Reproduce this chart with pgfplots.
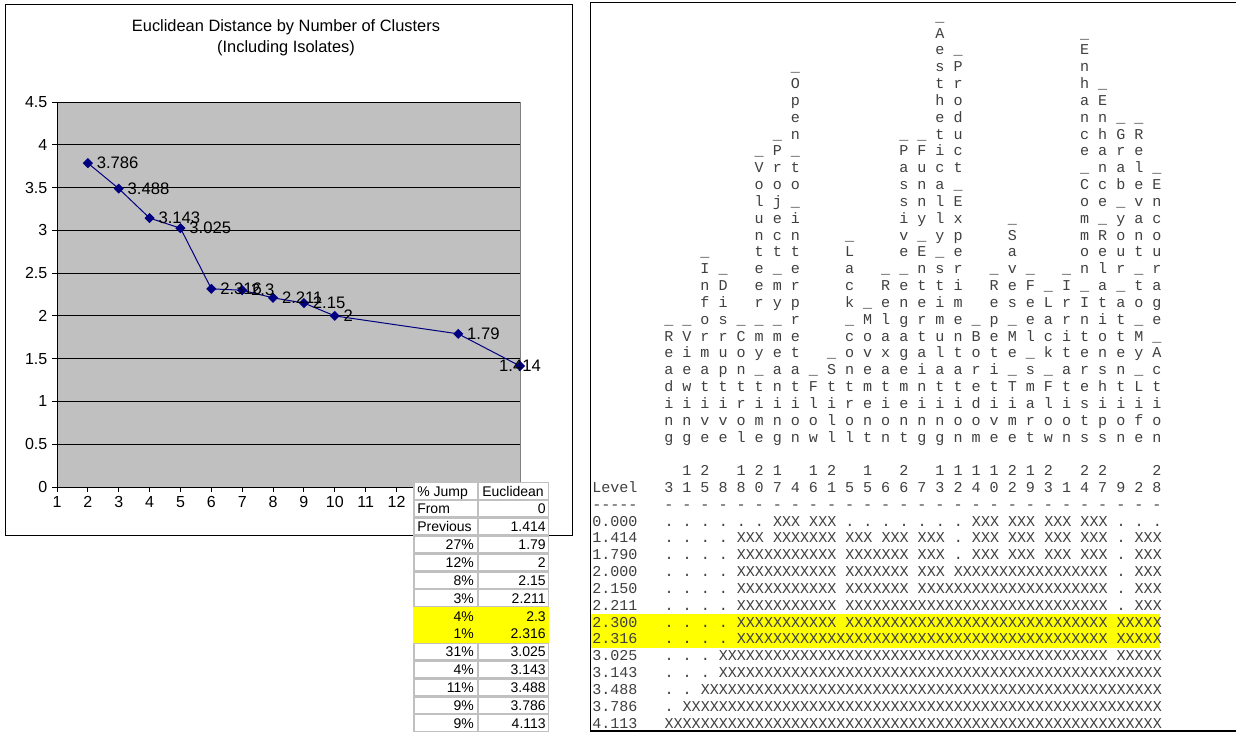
\documentclass[border=0pt]{standalone}
\usepackage{fontspec}
\setmainfont{Liberation Sans}
\newfontfamily\dmono{Liberation Mono}
\usepackage{pgfplots}
\pgfplotsset{compat=1.18}
\frenchspacing
\definecolor{excelgray}{RGB}{192,192,192}
\definecolor{navy}{RGB}{0,0,128}
\definecolor{xlyellow}{RGB}{255,255,0}
\definecolor{cellgray}{RGB}{192,192,192}
\def\stackchars#1{\ifx#1\relax\else\hbox{#1}\expandafter\stackchars\fi}
\def\Xs#1{\ifnum#1>0 X\expandafter\Xs\expandafter{\the\numexpr#1-1\relax}\fi}
\begingroup
\obeyspaces%
\gdef {\ }%
\gdef\rA{\relax0.000   . . . . . . XXX XXX . . . . . . . XXX XXX XXX XXX . . .}%
\gdef\rB{\relax1.414   . . . . XXX \Xs{7} XXX XXX XXX . XXX XXX XXX XXX . XXX}%
\gdef\rC{\relax1.790   . . . . \Xs{11} \Xs{7} XXX . XXX XXX XXX XXX . XXX}%
\gdef\rD{\relax2.000   . . . . \Xs{11} \Xs{7} XXX \Xs{17} . XXX}%
\gdef\rE{\relax2.150   . . . . \Xs{11} \Xs{7} \Xs{21} . XXX}%
\gdef\rF{\relax2.211   . . . . \Xs{11} \Xs{29} . XXX}%
\gdef\rG{\relax2.300   . . . . \Xs{11} \Xs{29} \Xs{5}}%
\gdef\rH{\relax2.316   . . . . \Xs{41} \Xs{5}}%
\gdef\rI{\relax3.025   . . . \Xs{43} \Xs{5}}%
\gdef\rJ{\relax3.143   . . . \Xs{49}}%
\gdef\rK{\relax3.488   . . \Xs{51}}%
\gdef\rL{\relax3.786   . \Xs{53}}%
\gdef\rM{\relax4.113   \Xs{55}}%
\endgroup
\tikzset{mono/.style={font=\dmono\fontsize{11.3}{12.62}\selectfont, text=black!75, inner sep=0pt}}
\begin{document}
\begin{tikzpicture}
\begin{scope}[x=0.75pt,y=-0.75pt]
\fill[white] (0,0) rectangle (1236,735);
\draw[black, line width=0.75pt] (5,5) rectangle (572,535);
\node[font=\fontsize{12.3}{15}\selectfont] at (286,27) {Euclidean Distance by Number of Clusters};
\node[font=\fontsize{12.3}{15}\selectfont] at (286,48) {(Including Isolates)};
\end{scope}
\begin{axis}[
  at={(42.75pt,-365.25pt)}, anchor=south west,
  scale only axis, width=347.25pt, height=288.75pt,
  xmin=1, xmax=16, ymin=0, ymax=4.5,
  xtick={1,2,...,16},
  xticklabels={1,2,3,4,5,6,7,8,9,10,11,12,{},{},{},{}},
  ytick={0,0.5,1,1.5,2,2.5,3,3.5,4,4.5},
  axis x line*=bottom, axis y line*=left,
  axis line style={black, line width=0.75pt},
  axis background/.style={fill=excelgray, draw=gray},
  ymajorgrids, major grid style={black, line width=0.75pt},
  tick align=outside, major tick length=3.75pt, tick style={black, line width=0.75pt},
  tick label style={font=\fontsize{12}{14}\selectfont, text=black},
  /pgf/number format/assume math mode=true,
  yticklabel style={/pgf/number format/fixed},
  clip=false,
]
\addplot[navy, line width=0.75pt, mark=square*, mark size=2.3pt, mark options={rotate=45, fill=navy, draw=navy}]
  coordinates {(2,3.786) (3,3.488) (4,3.143) (5,3.025) (6,2.316) (7,2.3) (8,2.211) (9,2.15) (10,2) (14,1.79) (16,1.414)};
\addplot[draw=none, mark=none, nodes near coords, point meta=explicit symbolic,
  every node near coord/.append style={anchor=west, xshift=6.5pt, inner sep=0pt, font=\fontsize{12.5}{14}\selectfont, text=black}]
  coordinates {(2,3.786)[3.786] (3,3.488)[3.488] (4,3.143)[3.143] (5,3.025)[3.025] (6,2.316)[2.316] (7,2.3)[2.3] (8,2.211)[2.211] (9,2.15)[2.15] (10,2)[2] (14,1.79)[1.79]};
\addplot[draw=none, mark=none, nodes near coords, point meta=explicit symbolic,
  every node near coord/.append style={anchor=center, inner sep=0pt, font=\fontsize{12.5}{14}\selectfont, text=black}]
  coordinates {(16,1.414)[1.414]};
\end{axis}
\begin{scope}[x=0.75pt,y=-0.75pt]
% table
\fill[cellgray] (413,482) rectangle (549,732);
\foreach \r in {0,...,13} {
  \fill[white] (414.5,{482+17.86*\r+1.3}) rectangle (476.7,{482+17.86*(\r+1)-1.3});
  \fill[white] (479.3,{482+17.86*\r+1.3}) rectangle (547.7,{482+17.86*(\r+1)-1.3});
}
\fill[xlyellow] (413,{482+17.86*7}) rectangle (549,{482+17.86*9});
\tikzset{tb/.style={font=\fontsize{10.5}{12}\selectfont, inner sep=0pt}}
\node[tb, anchor=base west] at (417,{496}) {\% Jump};
\node[tb, anchor=base west] at (482,{496}) {Euclidean};
\node[tb, anchor=base west] at (417,{496+17.86}) {From};
\node[tb, anchor=base west] at (417,{496+2*17.86}) {Previous};
\foreach \p/\v [count=\r from 1] in {/0,/1.414,27\%/1.79,12\%/2,8\%/2.15,3\%/2.211,4\%/2.3,1\%/2.316,31\%/3.025,4\%/3.143,11\%/3.488,9\%/3.786,9\%/4.113} {
  \node[tb, anchor=base east] at (474,{496+17.86*\r}) {\p};
  \node[tb, anchor=base east] at (546,{496+17.86*\r}) {\v};
}
% dendrogram panel
\fill[xlyellow] (590,614) rectangle (1160,648);
\foreach \lab/\tn/\on [count=\i from 0] in {\_Reading/0/3, \_Viewing/1/1, \_Informative/2/5, \_Disruptive/0/8, \_Control/1/8, \_Volunteer\_my\_time/2/0, \_Project\_my\_meaning/1/7, \_Open\_to\_interpretation/0/4, \_Flow/1/6, \_Still/2/1, \_Lack\_control/0/5, \_Movement/1/5, \_Relaxation/0/6, \_Passive\_engagement/2/6, \_Funny\_Entertaining/0/7, \_Aesthetically\_stimulating/1/3, \_Product\_Experimentation/1/2, \_Boredom/1/4, \_Repetitive/1/0, \_Saves\_Me\_Time/2/2, \_Feel\_smart/1/9, \_Lack\_Flow/2/3, \_Irritation/0/1, \_Enhance\_Common\_Interests/2/4, \_Enhance\_Relationships/2/7, \_Grab\_your\_attention/0/9, \_Relevant\_to\_My\_Life/0/2, \_Encourage\_Action/2/8} {
  \node[mono, anchor=base] at ({668.8+18.08*\i},442) {\vbox{\baselineskip=12.62pt\lineskip=0pt\lineskiplimit=-1000pt\expandafter\stackchars\lab\relax}};
  \ifnum\tn>0 \node[mono, anchor=base] at ({668.8+18.08*\i},475.5) {\tn};\fi
  \node[mono, anchor=base] at ({668.8+18.08*\i},492.5) {\on};
  \node[mono, anchor=base] at ({668.8+18.08*\i},509.5) {-};
}
\node[mono, anchor=base west] at (592,492.5) {Level};
\node[mono, anchor=base west] at (592,509.5) {-{}-{}-{}-{}-};
\foreach \m [count=\k from 2] in {\rA,\rB,\rC,\rD,\rE,\rF,\rG,\rH,\rI,\rJ,\rK,\rL,\rM} {
  \node[mono, anchor=base west] at (592,{492.5+16.83*\k}) {\m};
}
\draw[black, line width=1pt] (1240,2.5) -- (590.5,2.5) -- (590.5,731) -- (1240,731);
\pgfresetboundingbox
\useasboundingbox (0,0) rectangle (1236,735);
\end{scope}
\end{tikzpicture}
\end{document}
